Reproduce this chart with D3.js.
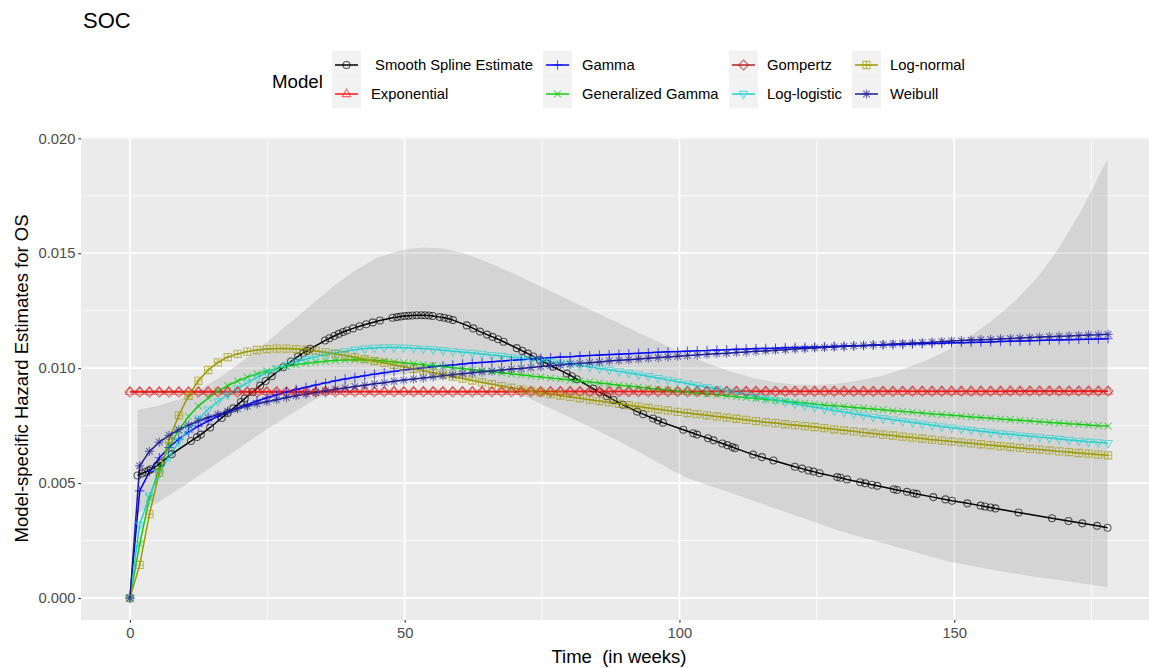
<!DOCTYPE html>
<html><head><meta charset="utf-8">
<script src="https://cdn.jsdelivr.net/npm/d3@7"></script>
<style>
body{margin:0;background:#fff}
svg{display:block;font-family:"Liberation Sans",Arial,sans-serif}
</style>
</head><body><svg id="c" width="1149" height="668"></svg>
<script>
// ---------- DATA (hazard values in units of 0.001) ----------
const modelTimes = [0,1.78,3.56,5.34,7.12,8.9,10.68,12.46,14.24,16.02,
17.8,19.58,21.36,23.14,24.92,26.7,28.48,30.26,32.04,33.82,
35.6,37.38,39.16,40.94,42.72,44.5,46.28,48.06,49.84,51.62,
53.4,55.18,56.96,58.74,60.52,62.3,64.08,65.86,67.64,69.42,
71.2,72.98,74.76,76.54,78.32,80.1,81.88,83.66,85.44,87.22,
89,90.78,92.56,94.34,96.12,97.9,99.68,101.46,103.24,105.02,
106.8,108.58,110.36,112.14,113.92,115.7,117.48,119.26,121.04,122.82,
124.6,126.38,128.16,129.94,131.72,133.5,135.28,137.06,138.84,140.62,
142.4,144.18,145.96,147.74,149.52,151.3,153.08,154.86,156.64,158.42,
160.2,161.98,163.76,165.54,167.32,169.1,170.88,172.66,174.44,176.22,
178];

const exponential = [8.98,8.98,8.98,8.98,8.98,8.98,8.98,8.98,8.98,8.98,
8.98,8.98,8.98,8.98,8.98,8.98,8.98,8.98,8.98,8.98,
8.98,8.98,8.98,8.98,8.98,8.98,8.98,8.98,8.98,8.98,
8.98,8.98,8.98,8.98,8.98,8.98,8.98,8.98,8.98,8.98,
8.98,8.98,8.98,8.98,8.98,8.98,8.98,8.98,8.98,8.98,
8.98,8.98,8.98,8.98,8.98,8.98,8.98,8.98,8.98,8.98,
8.98,8.98,8.98,8.98,8.98,8.98,8.98,8.98,8.98,8.98,
8.98,8.98,8.98,8.98,8.98,8.98,8.98,8.98,8.98,8.98,
8.98,8.98,8.98,8.98,8.98,8.98,8.98,8.98,8.98,8.98,
8.98,8.98,8.98,8.98,8.98,8.98,8.98,8.98,8.98,8.98,
8.98];

const gompertz = [8.96,8.96,8.96,8.96,8.96,8.96,8.96,8.96,8.96,8.96,
8.96,8.96,8.96,8.96,8.96,8.96,8.96,8.96,8.96,8.96,
8.97,8.97,8.97,8.97,8.97,8.97,8.97,8.97,8.97,8.97,
8.97,8.97,8.97,8.97,8.97,8.97,8.97,8.97,8.97,8.97,
8.98,8.98,8.98,8.98,8.98,8.98,8.98,8.98,8.98,8.98,
8.98,8.98,8.98,8.98,8.98,8.98,8.98,8.98,8.98,8.98,
8.99,8.99,8.99,8.99,8.99,8.99,8.99,8.99,8.99,8.99,
8.99,8.99,8.99,8.99,8.99,8.99,8.99,8.99,8.99,8.99,
9.00,9.00,9.00,9.00,9.00,9.00,9.00,9.00,9.00,9.00,
9.01,9.01,9.01,9.01,9.01,9.01,9.01,9.01,9.01,9.01,
9.01];

const weibull = [0,5.75,6.38,6.78,7.08,7.32,7.52,7.70,7.85,7.99,
8.12,8.24,8.35,8.45,8.54,8.63,8.72,8.80,8.87,8.94,
9.01,9.08,9.14,9.20,9.26,9.32,9.37,9.43,9.48,9.53,
9.57,9.62,9.67,9.71,9.76,9.80,9.84,9.88,9.92,9.96,
9.99,10.03,10.07,10.11,10.14,10.18,10.21,10.24,10.27,10.31,
10.34,10.37,10.40,10.43,10.46,10.49,10.52,10.55,10.57,10.60,
10.63,10.65,10.68,10.70,10.73,10.75,10.78,10.80,10.83,10.85,
10.88,10.90,10.92,10.94,10.97,10.99,11.01,11.03,11.05,11.07,
11.09,11.11,11.13,11.16,11.18,11.20,11.22,11.24,11.25,11.27,
11.29,11.31,11.33,11.35,11.37,11.39,11.40,11.42,11.44,11.45,
11.47];

const gamma = [0,4.66,5.50,6.10,6.55,6.92,7.22,7.48,7.70,7.90,
8.08,8.25,8.42,8.57,8.71,8.84,8.96,9.07,9.17,9.27,
9.36,9.45,9.53,9.60,9.67,9.74,9.80,9.86,9.92,9.97,
10.02,10.06,10.10,10.14,10.18,10.22,10.25,10.28,10.31,10.34,
10.37,10.40,10.43,10.45,10.48,10.50,10.53,10.55,10.57,10.59,
10.61,10.63,10.65,10.67,10.69,10.71,10.72,10.74,10.76,10.77,
10.79,10.80,10.82,10.83,10.85,10.86,10.87,10.89,10.90,10.91,
10.92,10.93,10.95,10.96,10.97,10.98,11.00,11.01,11.02,11.03,
11.05,11.06,11.07,11.08,11.10,11.11,11.12,11.13,11.14,11.16,
11.17,11.18,11.19,11.20,11.22,11.23,11.24,11.25,11.26,11.27,
11.28];

const genGamma = [0,2.35,4.35,5.65,6.60,7.30,7.90,8.35,8.70,9.00,
9.24,9.44,9.61,9.75,9.87,9.98,10.07,10.15,10.21,10.26,
10.30,10.34,10.36,10.37,10.36,10.34,10.31,10.27,10.23,10.19,
10.15,10.11,10.07,10.02,9.98,9.93,9.89,9.84,9.80,9.75,
9.71,9.66,9.62,9.57,9.53,9.48,9.44,9.40,9.35,9.31,
9.26,9.22,9.18,9.13,9.09,9.05,9.00,8.96,8.92,8.88,
8.84,8.80,8.76,8.72,8.68,8.64,8.60,8.56,8.52,8.48,
8.44,8.40,8.37,8.33,8.29,8.26,8.22,8.19,8.15,8.12,
8.08,8.05,8.01,7.98,7.95,7.92,7.88,7.85,7.82,7.79,
7.76,7.73,7.70,7.67,7.64,7.61,7.58,7.56,7.53,7.50,
7.48];

const logLogistic = [0,3.19,4.45,5.40,6.15,6.80,7.35,7.80,8.20,8.55,
8.85,9.12,9.36,9.60,9.80,9.98,10.14,10.28,10.40,10.50,
10.59,10.67,10.74,10.80,10.85,10.88,10.90,10.90,10.89,10.87,
10.85,10.82,10.78,10.74,10.70,10.66,10.62,10.57,10.53,10.48,
10.43,10.38,10.33,10.28,10.23,10.17,10.11,10.05,9.99,9.93,
9.86,9.79,9.72,9.65,9.57,9.49,9.41,9.33,9.25,9.17,
9.09,9.01,8.93,8.85,8.77,8.69,8.61,8.53,8.45,8.37,
8.30,8.23,8.16,8.09,8.02,7.95,7.88,7.82,7.76,7.70,
7.64,7.58,7.52,7.46,7.41,7.36,7.31,7.26,7.21,7.16,
7.12,7.08,7.04,7.00,6.96,6.92,6.88,6.84,6.80,6.77,
6.74];

const logNormal = [0,1.44,3.65,5.45,6.90,7.95,8.80,9.45,9.92,10.25,
10.48,10.62,10.72,10.79,10.83,10.85,10.85,10.83,10.80,10.75,
10.69,10.62,10.55,10.47,10.39,10.31,10.23,10.14,10.06,9.97,
9.89,9.80,9.72,9.63,9.55,9.46,9.38,9.30,9.22,9.15,
9.08,9.01,8.94,8.87,8.81,8.75,8.69,8.63,8.57,8.51,
8.45,8.39,8.33,8.27,8.21,8.16,8.10,8.05,8.00,7.95,
7.90,7.85,7.80,7.75,7.70,7.65,7.61,7.56,7.52,7.48,
7.44,7.39,7.34,7.30,7.25,7.20,7.16,7.11,7.07,7.02,
6.98,6.94,6.89,6.85,6.81,6.77,6.73,6.69,6.65,6.61,
6.57,6.53,6.49,6.46,6.42,6.38,6.35,6.31,6.28,6.24,
6.21];

const splineTimes = [1.4,2.2,2.8,3.4,3.8,4.9,5.6,7.6,11.1,12.2,
12.9,14.6,16.7,17.8,18.8,20.2,20.9,22.3,23.7,24.7,
25.8,27.9,29.3,30.6,31.5,32.2,32.8,35.5,36.3,37.2,
38.0,38.8,39.5,40.6,41.8,43.0,44.2,45.5,47.8,48.6,
49.3,50.0,50.7,51.4,52.2,53.0,53.7,54.4,55.1,56.4,
57.2,58.0,58.8,61.3,62.5,63.7,65.0,66.0,67.0,68.0,
70.4,71.4,72.4,73.4,74.6,75.8,77.0,79.5,80.4,81.3,
84.3,85.5,86.8,88.0,89.7,92.3,93.4,95.2,96.1,97.0,
100.7,102.5,103.2,105.2,106.2,107.8,108.7,109.6,110.1,113.4,
115.0,117.1,121.0,122.3,123.5,124.4,125.5,128.7,129.3,130.5,
132.9,133.8,135.0,136.0,139.0,139.6,141.4,142.6,143.2,146.2,
148.4,149.6,152.4,154.8,155.6,156.6,157.5,161.7,167.8,170.8,
173.3,176.0,177.9];
const splineValues = [5.33,5.42,5.48,5.55,5.60,5.75,5.88,6.26,6.83,7.00,
7.11,7.42,7.83,8.05,8.25,8.53,8.68,8.96,9.24,9.44,
9.65,10.04,10.29,10.51,10.65,10.75,10.84,11.20,11.30,11.40,
11.49,11.57,11.64,11.73,11.82,11.91,11.99,12.07,12.19,12.22,
12.25,12.27,12.28,12.29,12.30,12.30,12.30,12.29,12.27,12.22,
12.19,12.15,12.09,11.86,11.73,11.59,11.46,11.36,11.26,11.15,
10.87,10.75,10.63,10.51,10.36,10.21,10.06,9.76,9.65,9.52,
9.11,8.95,8.78,8.62,8.41,8.11,8.00,7.81,7.72,7.63,
7.32,7.17,7.11,6.95,6.86,6.72,6.65,6.57,6.52,6.24,
6.13,5.98,5.71,5.63,5.55,5.50,5.43,5.26,5.23,5.16,
5.04,4.99,4.93,4.88,4.73,4.70,4.62,4.56,4.53,4.39,
4.29,4.23,4.12,4.02,3.98,3.94,3.90,3.72,3.47,3.35,
3.25,3.14,3.06];

const bandTimes = [1.4,5,9,13,17,21,25,29,33,37,41,45,49,53,57,61,65,69,73,77,
81,85,89,93,97,101,105,109,113,117,121,125,129,133,137,141,145,149,153,157,
161,165,169,173,177.9];
const bandUpper = [8.19,8.35,8.65,9.10,9.70,10.40,11.15,11.95,12.75,13.55,14.25,14.80,15.12,15.25,15.20,14.98,14.62,14.20,13.75,13.30,
12.85,12.40,11.95,11.50,11.05,10.62,10.22,9.88,9.60,9.40,9.29,9.27,9.33,9.47,9.68,9.98,10.35,10.80,11.40,12.10,
12.90,13.90,15.20,16.80,19.10];
const bandLower = [3.70,4.15,4.75,5.40,6.05,6.70,7.35,7.95,8.55,9.00,9.35,9.60,9.75,9.78,9.70,9.55,9.35,9.05,8.65,8.20,
7.75,7.30,6.82,6.30,5.78,5.25,4.92,4.60,4.27,3.93,3.60,3.27,2.93,2.66,2.39,2.12,1.85,1.59,1.40,1.23,
1.07,0.92,0.78,0.64,0.48];

const xTicks = [0, 50, 100, 150];
const xMinorTicks = [25, 75, 125, 175];
const yTicks = [0, 5, 10, 15, 20];
const yTickLabels = ["0.000", "0.005", "0.010", "0.015", "0.020"];
const yMinorTicks = [2.5, 7.5, 12.5, 17.5];

const modelNames = ["Smooth Spline Estimate","Exponential","Gamma","Generalized Gamma","Gompertz","Log-logistic","Log-normal","Weibull"];
const legendLabels = [" Smooth Spline Estimate","Exponential","Gamma","Generalized Gamma","Gompertz","Log-logistic","Log-normal","Weibull"];

// ---------- STYLE ----------
const styles = {
  "Smooth Spline Estimate": {color:"#000000", shape:"circle"},
  "Exponential": {color:"#FF1A1A", shape:"triUp"},
  "Gamma": {color:"#0000FF", shape:"plus"},
  "Generalized Gamma": {color:"#11CC11", shape:"cross"},
  "Gompertz": {color:"#B22222", shape:"diamond"},
  "Log-logistic": {color:"#22D2D2", shape:"triDown"},
  "Log-normal": {color:"#9C9A00", shape:"squarePlus"},
  "Weibull": {color:"#1E1E96", shape:"asterisk"}
};
const shapes = {
  circle: "M3.5,0A3.5,3.5 0 1,1 -3.5,0A3.5,3.5 0 1,1 3.5,0Z",
  triUp: "M0,-4.8L4.2,2.6L-4.2,2.6Z",
  plus: "M-4.7,0H4.7M0,-4.7V4.7",
  cross: "M-3.4,-3.4L3.4,3.4M-3.4,3.4L3.4,-3.4",
  diamond: "M0,-5L5,0L0,5L-5,0Z",
  triDown: "M0,4.8L4.2,-2.6L-4.2,-2.6Z",
  squarePlus: "M-3.6,-3.6H3.6V3.6H-3.6ZM-3.6,0H3.6M0,-3.6V3.6",
  asterisk: "M-4.6,0H4.6M0,-4.6V4.6M-3.3,-3.3L3.3,3.3M-3.3,3.3L3.3,-3.3"
};

const seriesData = {
  "Smooth Spline Estimate": splineTimes.map((t,i)=>({t, v:splineValues[i]})),
  "Exponential": modelTimes.map((t,i)=>({t, v:exponential[i]})),
  "Gamma": modelTimes.map((t,i)=>({t, v:gamma[i]})),
  "Generalized Gamma": modelTimes.map((t,i)=>({t, v:genGamma[i]})),
  "Gompertz": modelTimes.map((t,i)=>({t, v:gompertz[i]})),
  "Log-logistic": modelTimes.map((t,i)=>({t, v:logLogistic[i]})),
  "Log-normal": modelTimes.map((t,i)=>({t, v:logNormal[i]})),
  "Weibull": modelTimes.map((t,i)=>({t, v:weibull[i]}))
};
const band = bandTimes.map((t,i)=>({t, lo:bandLower[i], hi:bandUpper[i]}));

// ---------- LAYOUT ----------
const P = {left:81, right:1157, top:137, bottom:620};
const svg = d3.select("#c");

const xmin = 0, xmax = d3.max(modelTimes);
const xpad = (xmax - xmin) * 0.05;
const ymin = 0, ymax = d3.max(bandUpper);
const ypad = (ymax - ymin) * 0.05;
const x = d3.scaleLinear().domain([xmin - xpad, xmax + xpad]).range([P.left, P.right]);
const y = d3.scaleLinear().domain([ymin - ypad, ymax + ypad]).range([P.bottom, P.top]);

// panel
svg.append("rect").attr("x",P.left).attr("y",P.top).attr("width",P.right-P.left).attr("height",P.bottom-P.top).attr("fill","#EBEBEB");
svg.append("clipPath").attr("id","clip").append("rect").attr("x",P.left).attr("y",P.top).attr("width",P.right-P.left).attr("height",P.bottom-P.top);

const grid = svg.append("g");
grid.selectAll(".xm").data(xMinorTicks).join("line").attr("x1",d=>x(d)).attr("x2",d=>x(d)).attr("y1",P.top).attr("y2",P.bottom).attr("stroke","#fff").attr("stroke-width",0.8);
grid.selectAll(".ym").data(yMinorTicks).join("line").attr("y1",d=>y(d)).attr("y2",d=>y(d)).attr("x1",P.left).attr("x2",P.right).attr("stroke","#fff").attr("stroke-width",0.8);
grid.selectAll(".xM").data(xTicks).join("line").attr("x1",d=>x(d)).attr("x2",d=>x(d)).attr("y1",P.top).attr("y2",P.bottom).attr("stroke","#fff").attr("stroke-width",1.7);
grid.selectAll(".yM").data(yTicks).join("line").attr("y1",d=>y(d)).attr("y2",d=>y(d)).attr("x1",P.left).attr("x2",P.right).attr("stroke","#fff").attr("stroke-width",1.7);

const plot = svg.append("g").attr("clip-path","url(#clip)");

// confidence band
plot.append("path").datum(band)
  .attr("d", d3.area().x(d=>x(d.t)).y0(d=>y(d.lo)).y1(d=>y(d.hi)))
  .attr("fill","#999999").attr("fill-opacity",0.28);

const drawOrder = ["Smooth Spline Estimate","Gompertz","Exponential","Gamma","Generalized Gamma","Log-logistic","Log-normal","Weibull"];
const line = d3.line().x(d=>x(d.t)).y(d=>y(d.v));
drawOrder.forEach(n=>{
  plot.append("path").datum(seriesData[n]).attr("d",line)
    .attr("fill","none").attr("stroke",styles[n].color).attr("stroke-width",1.5);
});
drawOrder.forEach(n=>{
  plot.append("g").selectAll("path").data(seriesData[n]).join("path")
    .attr("d",shapes[styles[n].shape])
    .attr("transform",d=>`translate(${x(d.t)},${y(d.v)})`)
    .attr("fill","none").attr("stroke",styles[n].color).attr("stroke-width",1.1)
    .attr("stroke-opacity",0.62);
});

// axes
const yAxis = svg.append("g").attr("transform",`translate(${P.left},0)`)
  .call(d3.axisLeft(y).tickValues(yTicks).tickFormat((d,i)=>yTickLabels[i]).tickSize(2.7).tickPadding(2.8));
const xAxis = svg.append("g").attr("transform",`translate(0,${P.bottom})`)
  .call(d3.axisBottom(x).tickValues(xTicks).tickFormat(d3.format("d")).tickSize(2.7).tickPadding(4.5));
[yAxis,xAxis].forEach(a=>{
  a.select(".domain").remove();
  a.selectAll(".tick line").attr("stroke","#333333").attr("stroke-width",1.1);
  a.selectAll(".tick text").attr("fill","#4D4D4D").style("font-size","14.8px").style("font-family",'"Liberation Sans",Arial,sans-serif');
});

// titles
svg.append("text").attr("x",83).attr("y",28).text("SOC").style("font-size","22px").attr("fill","#000");
svg.append("text").attr("x",(P.left+P.right)/2).attr("y",663).attr("text-anchor","middle")
  .style("font-size","18.5px").style("white-space","pre").text("Time  (in weeks)");
svg.append("text").attr("transform",`translate(28,${(P.top+P.bottom)/2}) rotate(-90)`).attr("text-anchor","middle")
  .style("font-size","18.5px").text("Model-specific Hazard Estimates for OS");

// legend
svg.append("text").attr("x",272).attr("y",88).style("font-size","18.7px").text("Model");
const keyX = [332, 543, 729, 852];
const labelX = [371, 582, 767, 890];
const rowY = [65, 94];
const lg = svg.append("g");
modelNames.forEach((n,i)=>{
  const c = Math.floor(i/2), r = i%2;
  const cx = keyX[c], cy = rowY[r];
  lg.append("rect").attr("x",cx).attr("y",cy-14.5).attr("width",29).attr("height",29).attr("fill","#F2F2F2");
  lg.append("line").attr("x1",cx+3).attr("x2",cx+26).attr("y1",cy).attr("y2",cy).attr("stroke",styles[n].color).attr("stroke-width",1.5);
  lg.append("path").attr("d",shapes[styles[n].shape]).attr("transform",`translate(${cx+14.5},${cy})`)
    .attr("fill","none").attr("stroke",styles[n].color).attr("stroke-width",1.1).attr("stroke-opacity",0.65);
  lg.append("text").attr("x",labelX[c]).attr("y",cy+5.3).style("font-size","14.8px").style("white-space","pre").text(legendLabels[i]);
});
</script>
</body></html>
